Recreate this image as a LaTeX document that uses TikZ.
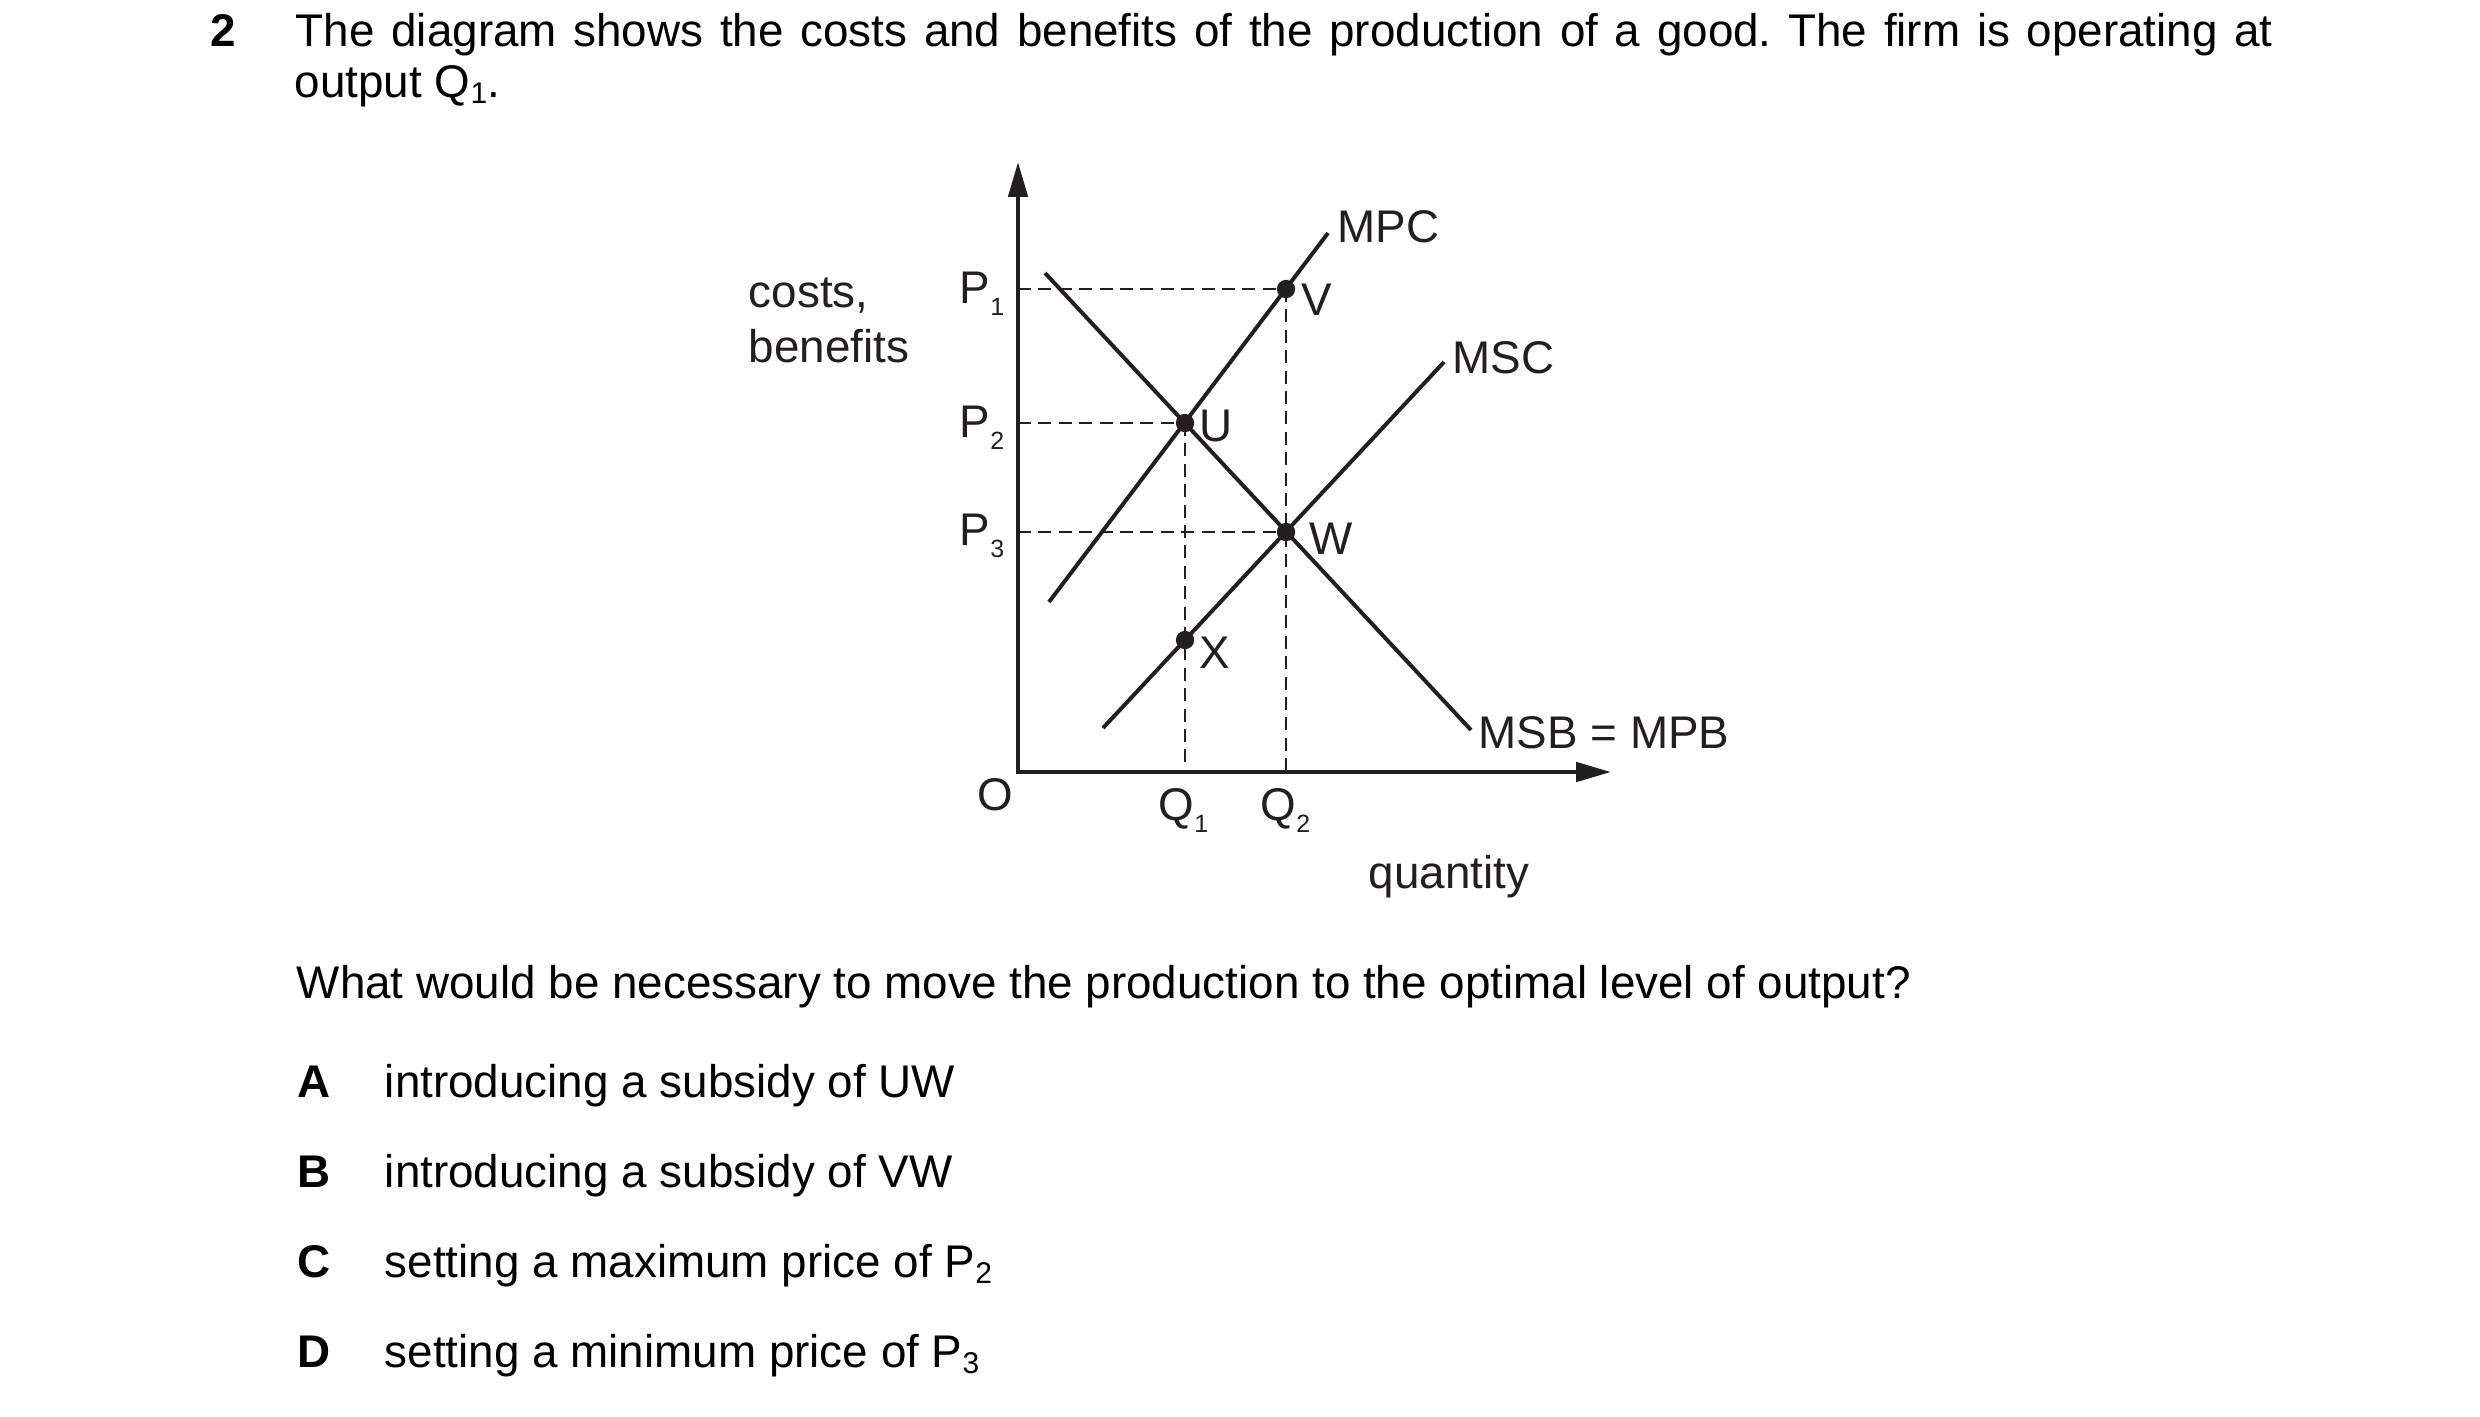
\documentclass[tikz,border=0pt]{standalone}
\usepackage{fontspec}
\setmainfont{Liberation Sans}
\usetikzlibrary{arrows.meta}
\definecolor{ink}{RGB}{35,31,32}
\newcommand\dsub[1]{\raisebox{-2.9pt}{\fontsize{6}{7}\selectfont #1}}
\newcommand\tsub[1]{\raisebox{-1.6pt}{\fontsize{7.2}{8}\selectfont #1}}
\frenchspacing
\begin{document}
\begin{tikzpicture}[x=0.2402pt,y=-0.2402pt,
  txt/.style={anchor=base west, inner sep=0pt, font=\fontsize{11}{13}\selectfont},
  lbl/.style={anchor=base west, inner sep=0pt, text=ink, font=\fontsize{11}{13}\selectfont},
  bnum/.style={anchor=base west, inner sep=0pt, font=\fontsize{11}{13}\selectfont\bfseries},
  axisline/.style={draw=ink, line width=1.05pt, {Triangle[length=8.4pt,width=4.6pt]}-{Triangle[length=8.4pt,width=4.6pt]}},
  curve/.style={draw=ink, line width=0.95pt},
  guide/.style={draw=ink, line width=0.5pt, dash pattern=on 3.1pt off 1.8pt},
  dot/.style={circle, fill=ink, inner sep=0pt, minimum size=4.4pt}]
\useasboundingbox (0,0) rectangle (2480,1416);

% question text
\node[bnum] (qn) at (210,46) {2};
\node[txt] (l1) at (295,46) {\hbox to 474.9pt{The diagram shows the costs and benefits of the production of a good. The firm is operating at}};
\node[txt] (l2) at (294,97) {output Q\tsub{1}.};

% axes
\coordinate (O) at (1018,772);
\coordinate (ytip) at (1018,162);
\coordinate (xtip) at (1611,772);
\coordinate (p1) at (1018,289);
\coordinate (p2) at (1018,423);
\coordinate (p3) at (1018,532);
\coordinate (q1) at (1185,772);
\coordinate (q2) at (1286,772);

% points
\coordinate (Vc) at (1286,289);
\coordinate (Uc) at (1185,423);
\coordinate (Wc) at (1286,532);
\coordinate (Xc) at (1185,640);

% guides
\draw[guide] (p1) -- (Vc);
\draw[guide] (p2) -- (Uc);
\draw[guide] (p3) -- (Wc);
\draw[guide] (Uc) -- (q1);
\draw[guide] (Vc) -- (q2);

% curves
\coordinate (mpcA) at (1049,602);
\coordinate (mpcB) at (1328,233);
\coordinate (msbA) at (1045,273);
\coordinate (msbB) at (1471,730);
\coordinate (mscA) at (1103,728);
\coordinate (mscB) at (1444,362);
\draw[curve] (mpcA) -- (mpcB);
\draw[curve] (msbA) -- (msbB);
\draw[curve] (mscA) -- (mscB);

\draw[axisline] (ytip) -- (O) -- (xtip);

\node[dot] (V) at (Vc) {};
\node[dot] (U) at (Uc) {};
\node[dot] (W) at (Wc) {};
\node[dot] (X) at (Xc) {};

% labels
\node[lbl] (cb1) at (748,307) {costs,};
\node[lbl] (cb2) at (748,362) {benefits};
\node[lbl] (P1) at (959,303) {P\dsub{1}};
\node[lbl] (P2) at (959,437) {P\dsub{2}};
\node[lbl] (P3) at (959,545) {P\dsub{3}};
\node[lbl] (Vl) at (1301,315) {V};
\node[lbl] (Ul) at (1199,441) {U};
\node[lbl] (Wl) at (1309,554) {W};
\node[lbl] (Xl) at (1199,668) {X};
\node[lbl] (MPC) at (1337,242) {MPC};
\node[lbl] (MSC) at (1452,373) {MSC};
\node[lbl] (MSB) at (1478,748) {MSB = MPB};
\node[lbl, anchor=base] (Ol) at (995,810) {O};
\node[lbl] (Q1) at (1158,820) {Q\dsub{1}};
\node[lbl] (Q2) at (1260,820) {Q\dsub{2}};
\node[lbl] (qty) at (1368,888) {quantity};

% question
\node[txt] (q) at (296,998) {What would be necessary to move the production to the optimal level of output?};
\node[bnum] (A) at (297,1097) {A};
\node[txt] (Ax) at (384,1097) {introducing a subsidy of UW};
\node[bnum] (B) at (297,1187) {B};
\node[txt] (Bx) at (384,1187) {introducing a subsidy of VW};
\node[bnum] (C) at (297,1277) {C};
\node[txt] (Cx) at (384,1277) {setting a maximum price of P\tsub{2}};
\node[bnum] (D) at (297,1367) {D};
\node[txt] (Dx) at (384,1367) {setting a minimum price of P\tsub{3}};
\end{tikzpicture}
\end{document}
